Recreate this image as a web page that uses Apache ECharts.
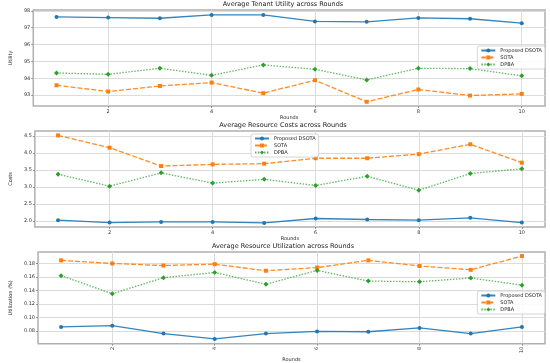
<!DOCTYPE html>
<html><head><meta charset="utf-8">
<script src="https://cdn.jsdelivr.net/npm/echarts@6/dist/echarts.min.js"></script>
<style>html,body{margin:0;padding:0;background:#fff}#c{width:550px;height:363px}</style>
</head><body><div id="c"></div>
<script>
const rounds = [1,2,3,4,5,6,7,8,9,10];
const xTicks = [2,4,6,8,10];
const seriesNames = ['Proposed DSOTA','SOTA','DPBA'];
const titles = ['Average Tenant Utility across Rounds','Average Resource Costs across Rounds','Average Resource Utilization across Rounds'];
const yNames = ['Utility','Costs','Utilization (%)'];

const utilDSOTA = [97.64,97.60,97.56,97.76,97.76,97.37,97.35,97.58,97.53,97.27];
const utilSOTA  = [93.58,93.21,93.54,93.74,93.11,93.88,92.60,93.33,92.97,93.07];
const utilDPBA  = [94.31,94.23,94.59,94.17,94.79,94.53,93.90,94.59,94.57,94.14];

const costDSOTA = [2.02,1.95,1.97,1.97,1.94,2.07,2.04,2.02,2.09,1.95];
const costSOTA  = [4.51,4.15,3.61,3.66,3.68,3.84,3.84,3.96,4.25,3.71];
const costDPBA  = [3.37,3.02,3.41,3.11,3.22,3.04,3.31,2.90,3.39,3.53];

const utzDSOTA = [0.0862,0.0880,0.0763,0.0684,0.0763,0.0795,0.0790,0.0847,0.0763,0.0862];
const utzSOTA  = [0.1846,0.1800,0.1770,0.1790,0.1693,0.1740,0.1846,0.1763,0.1707,0.1910];
const utzDPBA  = [0.1620,0.1353,0.1590,0.1667,0.1493,0.1698,0.1540,0.1530,0.1585,0.1480];

const yTicks1 = [93,94,95,96,97,98];
const yTicks2 = [2.0,2.5,3.0,3.5,4.0,4.5];
const yTicks3 = [0.08,0.10,0.12,0.14,0.16,0.18];

const panels = [
  {data:[utilDSOTA,utilSOTA,utilDPBA], ticks:yTicks1, min:92.35, max:98.05, dec:0},
  {data:[costDSOTA,costSOTA,costDPBA], ticks:yTicks2, min:1.82, max:4.64, dec:1},
  {data:[utzDSOTA,utzSOTA,utzDPBA], ticks:yTicks3, min:0.0613, max:0.197, dec:2}
];
const gridTops = [10,131,252];
const gridH = [96,96,97];
const colors = ['#1f77b4','#ff7f0e','#2ca02c'];
const symbols = ['circle','rect','diamond'];
const dashes = ['solid',[5,2],[1.5,1.5]];
const legendPos = [{right:5,top:46},{left:251,top:134},{right:5,top:291}];
const font = 'DejaVu Sans';

const option = {
  animation:false,
  backgroundColor:'#fff',
  color:colors,
  title: titles.map((t,i)=>({text:t,left:283,textAlign:'center',top:gridTops[i]-9,padding:0,
    textStyle:{fontSize:6.5,fontWeight:'normal',color:'#222',fontFamily:font}})),
  legend: legendPos.map((p,i)=>Object.assign({
    orient:'vertical', data:seriesNames,
    itemWidth:14, itemHeight:5, itemGap:2, padding:[2,3,2,3],
    backgroundColor:'rgba(255,255,255,0.85)', borderColor:'#ccc', borderWidth:0.8, borderRadius:2,
    textStyle:{fontSize:5,color:'#222',fontFamily:font}
  },p)),
  grid: gridTops.map((t,i)=>({left:22,top:t,width:523,height:gridH[i],show:true,
    borderColor:'#b0b0b0',borderWidth:1.5,backgroundColor:'transparent'})),
  xAxis: [0,1,2].map(i=>({
    type:'value', gridIndex:i, min:0.55, max:10.45,
    name:'Rounds', nameLocation:'middle', nameGap:9,
    nameTextStyle:{fontSize:5,color:'#222',fontFamily:font},
    axisLine:{show:false},
    axisTick:{show:true,length:2,lineStyle:{color:'#555',width:0.6},customValues:xTicks},
    axisLabel:{fontSize:5,color:'#333',fontFamily:font,margin:3,customValues:xTicks,rotate:i===2?90:0},
    splitLine:{show:true,lineStyle:{color:'#dcdcdc',width:1}}
  })),
  yAxis: panels.map((p,i)=>({
    type:'value', gridIndex:i, min:p.min, max:p.max,
    name:yNames[i], nameLocation:'middle', nameGap:14, nameRotate:90,
    nameTextStyle:{fontSize:5,color:'#222',fontFamily:font},
    axisLine:{show:false},
    axisTick:{show:true,length:2,lineStyle:{color:'#555',width:0.6},customValues:p.ticks},
    axisLabel:{fontSize:5,color:'#333',fontFamily:font,margin:3,customValues:p.ticks,
      formatter:v=>Number(v).toFixed(p.dec)},
    splitLine:{show:true,lineStyle:{color:'#dcdcdc',width:1}}
  })),
  series: []
};
panels.forEach((p,i)=>{
  p.data.forEach((arr,k)=>{
    option.series.push({
      type:'line', name:seriesNames[k], xAxisIndex:i, yAxisIndex:i,
      data: rounds.map((r,j)=>[r,arr[j]]),
      symbol:symbols[k], symbolSize:k===2?5:4, showSymbol:true,
      lineStyle:{color:colors[k],width:1.3,type:dashes[k],opacity:k===2?0.75:0.9},
      itemStyle:{color:colors[k]}, emphasis:{disabled:true}
    });
  });
});
const chart = echarts.init(document.getElementById('c'),null,{renderer:'canvas'});
chart.setOption(option);
</script></body></html>
